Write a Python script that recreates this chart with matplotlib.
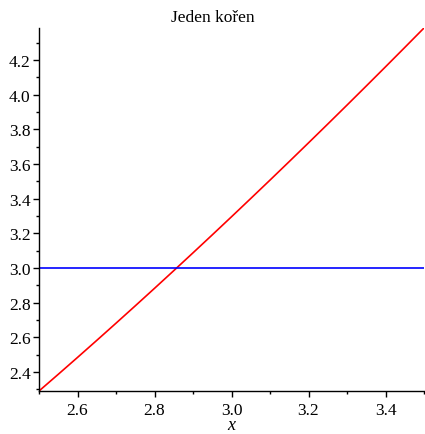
"""
Jeden kořen: x*ln(x) against the constant 3, Maple-style plot.
"""

import matplotlib
matplotlib.use("Agg")
import matplotlib.pyplot as plt  # noqa: E402
from matplotlib.ticker import MultipleLocator  # noqa: E402


x_vals = [2.50, 2.55, 2.60, 2.65, 2.70, 2.75, 2.80, 2.85, 2.90, 2.95, 3.00,
          3.05, 3.10, 3.15, 3.20, 3.25, 3.30, 3.35, 3.40, 3.45, 3.50]
curve = [2.2907, 2.3870, 2.4843, 2.5826, 2.6818, 2.7819, 2.8829, 2.9849,
         3.0877, 3.1913, 3.2958, 3.4012, 3.5073, 3.6143, 3.7221, 3.8306,
         3.9399, 4.0500, 4.1608, 4.2724, 4.3847]
level = [3.0] * len(x_vals)

TITLE = "Jeden kořen"


def main() -> None:
    plt.rcParams["font.family"] = ["Liberation Serif", "DejaVu Serif"]

    fig = plt.figure(figsize=(4.25, 4.35), dpi=100)
    ax = fig.add_axes([39 / 425, 1 - 392 / 435, 385 / 425, 363 / 435])

    ax.plot(x_vals, curve, color="#ff0000", linewidth=1.2)
    ax.plot(x_vals, level, color="#0000ff", linewidth=1.2)

    ax.set_xlim(x_vals[0], x_vals[-1])
    ax.set_ylim(min(curve), max(curve))

    for side in ("top", "right"):
        ax.spines[side].set_visible(False)
    for side in ("left", "bottom"):
        ax.spines[side].set_linewidth(1.0)

    ax.xaxis.set_major_locator(MultipleLocator(0.2))
    ax.xaxis.set_minor_locator(MultipleLocator(0.1))
    ax.yaxis.set_major_locator(MultipleLocator(0.2))
    ax.yaxis.set_minor_locator(MultipleLocator(0.1))
    ax.tick_params(which="major", length=4, width=1, labelsize=12.5, pad=2)
    ax.tick_params(axis="x", which="major", pad=4)
    ax.tick_params(which="minor", length=2, width=1)

    # axis label and title placed on the figure, Maple style
    x_mid = (39 + 424) / 2 / 425
    fig.text(x_mid, 1 - 426 / 435, "x", fontstyle="italic", fontsize=13,
             ha="center", va="center")
    fig.text(0.5, 1 - 18 / 435, TITLE, ha="center", va="center", fontsize=12.5)

    fig.savefig("out.png", dpi=100)


if __name__ == "__main__":
    main()
